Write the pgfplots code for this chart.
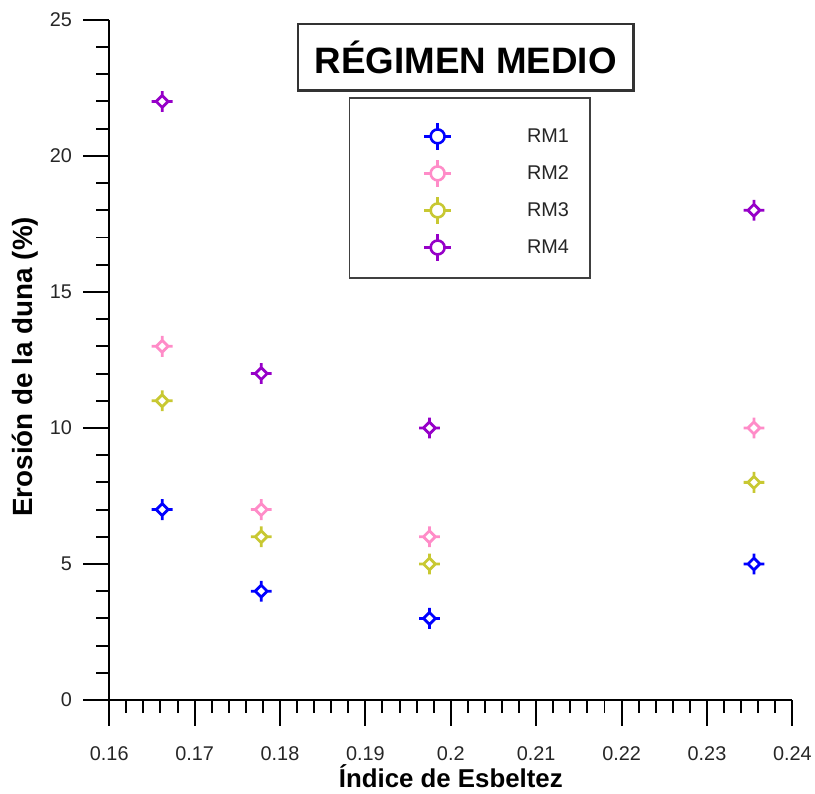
\documentclass[border=0pt]{standalone}
\usepackage{pgfplots}
\pgfplotsset{compat=1.18}
\usepackage{fontspec}
\setmainfont{Liberation Sans}
\definecolor{c1}{RGB}{0,0,255}
\definecolor{c2}{RGB}{255,140,200}
\definecolor{c3}{RGB}{200,200,50}
\definecolor{c4}{RGB}{150,0,200}
\pgfdeclareplotmark{dcross}{%
  \pgfpathmoveto{\pgfqpoint{0pt}{6pt}}%
  \pgfpathlineto{\pgfqpoint{6pt}{0pt}}%
  \pgfpathlineto{\pgfqpoint{0pt}{-6pt}}%
  \pgfpathlineto{\pgfqpoint{-6pt}{0pt}}%
  \pgfpathclose
  \pgfpathmoveto{\pgfqpoint{0pt}{6pt}}\pgfpathlineto{\pgfqpoint{0pt}{10.5pt}}%
  \pgfpathmoveto{\pgfqpoint{0pt}{-6pt}}\pgfpathlineto{\pgfqpoint{0pt}{-10.5pt}}%
  \pgfpathmoveto{\pgfqpoint{6pt}{0pt}}\pgfpathlineto{\pgfqpoint{10.5pt}{0pt}}%
  \pgfpathmoveto{\pgfqpoint{-6pt}{0pt}}\pgfpathlineto{\pgfqpoint{-10.5pt}{0pt}}%
  \pgfusepathqstroke}
\begin{document}
\begin{tikzpicture}
\begin{axis}[
  scale only axis, width=688pt, height=685pt,
  xmin=0.16, xmax=0.24, ymin=0, ymax=25,
  clip=false,
  axis lines=left, axis line style={-, line width=2pt},
  xtick={0.16,0.17,0.18,0.19,0.2,0.21,0.22,0.23,0.24},
  ytick={0,5,10,15,20,25},
  minor x tick num=4, minor y tick num=4,
  tick align=outside,
  major tick length=26pt, minor tick length=13pt,
  major tick style={black, line width=2pt},
  minor tick style={black, line width=2pt},
  scaled x ticks=false,
  xticklabel style={/pgf/number format/fixed, /pgf/number format/precision=2, yshift=-17pt},
  yticklabel style={xshift=-8pt},
  /pgf/number format/assume math mode=true,
  tick label style={font=\fontsize{20}{23}\selectfont, text=black!85},
  xlabel={Índice de Esbeltez},
  ylabel={Erosión de la duna (\%)},
  xlabel style={at={(axis description cs:0.5,-0.129)}, anchor=base, font=\fontsize{26}{30}\selectfont\bfseries},
  ylabel style={at={(axis description cs:-0.1235,0.49)}, anchor=center, font=\fontsize{28}{32}\selectfont\bfseries},
  mark options={solid, line width=2.8pt},
  legend style={at={(axis description cs:0.3503,0.886)}, anchor=north west,
    draw=black!75, line width=1.5pt, inner xsep=19pt, inner ysep=16pt,
    column sep=0pt, row sep=0pt,
    font=\fontsize{20}{24}\selectfont, text=black!85,
    nodes={inner sep=2pt}},
  legend cell align=left,
  legend image code/.code={%
    \path[draw=none, fill=none] (-70pt,-13pt) rectangle (88pt,22.5pt);
    \draw[#1, line width=2.6pt, fill=none] (0,0) circle (7pt);
    \draw[#1, line width=2.6pt] (0,7pt)--(0,13.5pt) (0,-7pt)--(0,-13.5pt) (7pt,0)--(13.5pt,0) (-7pt,0)--(-13.5pt,0);
  },
]
\addplot[only marks, mark=dcross, color=c1] coordinates {(0.1662,7)(0.1778,4)(0.1975,3)(0.2355,5)};
\addlegendentry{RM1}
\addplot[only marks, mark=dcross, color=c2] coordinates {(0.1662,13)(0.1778,7)(0.1975,6)(0.2355,10)};
\addlegendentry{RM2}
\addplot[only marks, mark=dcross, color=c3] coordinates {(0.1662,11)(0.1778,6)(0.1975,5)(0.2355,8)};
\addlegendentry{RM3}
\addplot[only marks, mark=dcross, color=c4] coordinates {(0.1662,22)(0.1778,12)(0.1975,10)(0.2355,18)};
\addlegendentry{RM4}
\node[draw=black!80, line width=2.5pt, minimum width=338pt, minimum height=67pt, inner sep=0pt,
  font=\fontsize{37}{40}\selectfont\bfseries] at (axis description cs:0.5218,0.9453) {RÉGIMEN MEDIO};
\path (rel axis cs:0,0) ++(-110pt,-94pt) rectangle ++(815pt,799pt);
\end{axis}
\end{tikzpicture}
\end{document}
